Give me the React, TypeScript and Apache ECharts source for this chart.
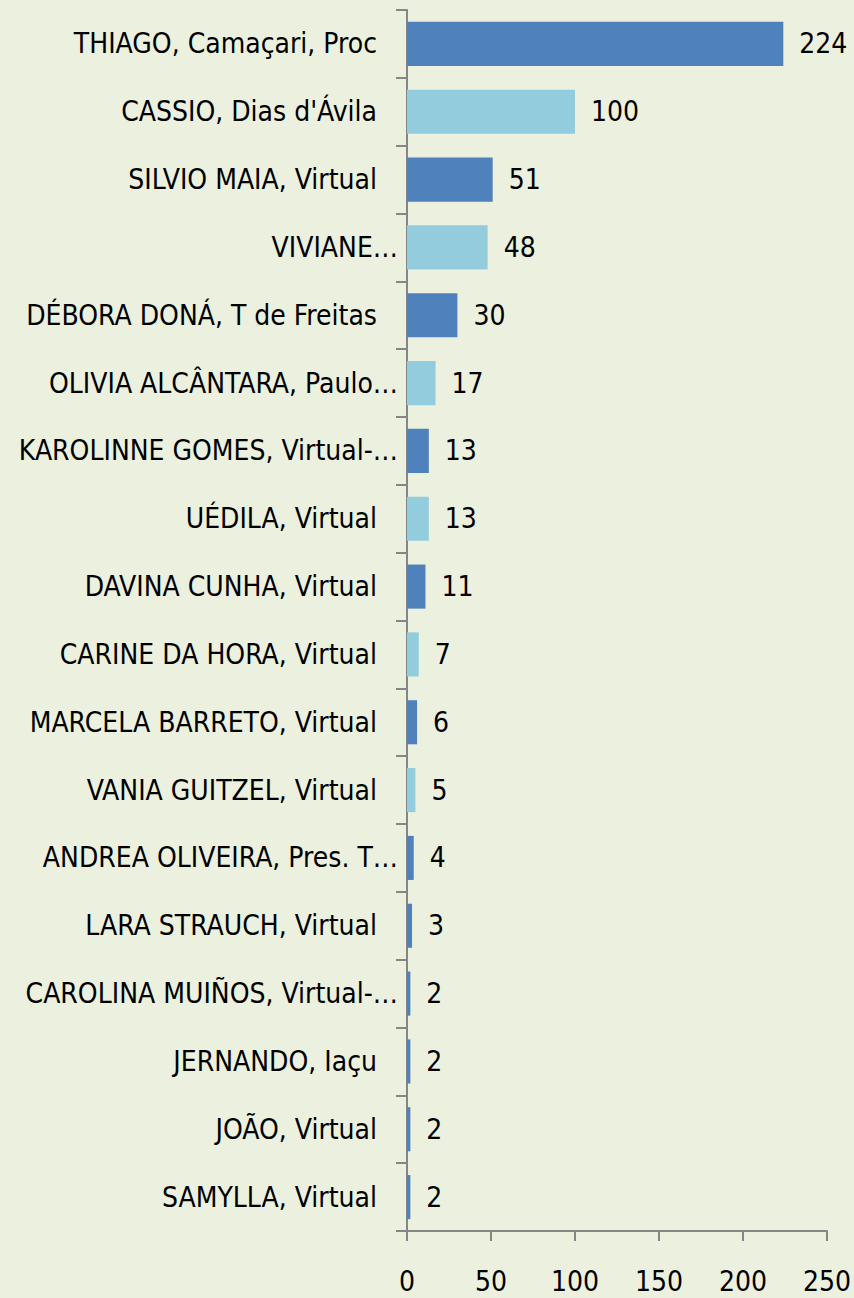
import React, { useEffect, useRef } from "react";
import * as echarts from "echarts";

const categories = [
  "THIAGO, Camaçari, Proc",
  "CASSIO, Dias d'Ávila",
  "SILVIO MAIA, Virtual",
  "VIVIANE…",
  "DÉBORA DONÁ, T de Freitas",
  "OLIVIA ALCÂNTARA, Paulo…",
  "KAROLINNE GOMES, Virtual-…",
  "UÉDILA, Virtual",
  "DAVINA CUNHA, Virtual",
  "CARINE DA HORA, Virtual",
  "MARCELA BARRETO, Virtual",
  "VANIA GUITZEL, Virtual",
  "ANDREA OLIVEIRA, Pres. T…",
  "LARA STRAUCH, Virtual",
  "CAROLINA MUIÑOS, Virtual-…",
  "JERNANDO, Iaçu",
  "JOÃO, Virtual",
  "SAMYLLA, Virtual",
];

const values = [224, 100, 51, 48, 30, 17, 13, 13, 11, 7, 6, 5, 4, 3, 2, 2, 2, 2];

// colour group per bar: 0 = dark blue, 1 = light blue
const colorGroup = [0, 1, 0, 1, 0, 1, 0, 1, 0, 1, 0, 1, 0, 0, 0, 0, 0, 0];
const palette = ["#4F81BD", "#93CDDD"];

const xTicks = [0, 50, 100, 150, 200, 250];

const FONT = "'DejaVu Sans Condensed', sans-serif";
const FS = 28;

export default function App() {
  const ref = useRef<HTMLDivElement>(null);
  useEffect(() => {
    if (!ref.current) return;
    const chart = echarts.init(ref.current, undefined, { renderer: "svg" });
    chart.setOption({
      animation: false,
      backgroundColor: "#EBF1DE",
      textStyle: { fontFamily: FONT },
      grid: {
        left: 407,
        right: 27,
        top: 10,
        bottom: 67,
        containLabel: false,
        outerBoundsMode: "none",
      },
      xAxis: {
        type: "value",
        min: xTicks[0],
        max: xTicks[xTicks.length - 1],
        interval: xTicks[1] - xTicks[0],
        splitLine: { show: false },
        axisLine: { show: true, lineStyle: { color: "#868686", width: 2 } },
        axisTick: { show: true, length: 10, lineStyle: { color: "#868686", width: 2 } },
        axisLabel: { color: "#000", fontSize: FS, fontFamily: FONT, margin: 36 },
      },
      yAxis: {
        type: "category",
        inverse: true,
        data: categories,
        axisLine: { show: true, lineStyle: { color: "#868686", width: 2 } },
        axisTick: { show: true, length: 11, lineStyle: { color: "#868686", width: 2 } },
        axisLabel: {
          color: "#000",
          fontSize: FS,
          fontFamily: FONT,
          margin: 9,
          formatter: (v: string) => (v.endsWith("…") ? `{t|${v}}` : `{n|${v}}`),
          rich: {
            t: { color: "#000", fontSize: FS, fontFamily: FONT },
            n: { color: "#000", fontSize: FS, fontFamily: FONT, padding: [0, 21, 0, 0] },
          },
        },
      },
      series: [
        {
          type: "bar",
          data: values,
          barCategoryGap: "35%",
          itemStyle: {
            color: (p: any) => palette[colorGroup[p.dataIndex]],
          },
          label: {
            show: true,
            position: "right",
            distance: 16,
            color: "#000",
            fontSize: FS,
            fontFamily: FONT,
          },
        },
      ],
    });
    return () => chart.dispose();
  }, []);
  return (
    <div
      ref={ref}
      style={{ position: "absolute", left: 0, top: 0, width: 854, height: 1298 }}
    />
  );
}
